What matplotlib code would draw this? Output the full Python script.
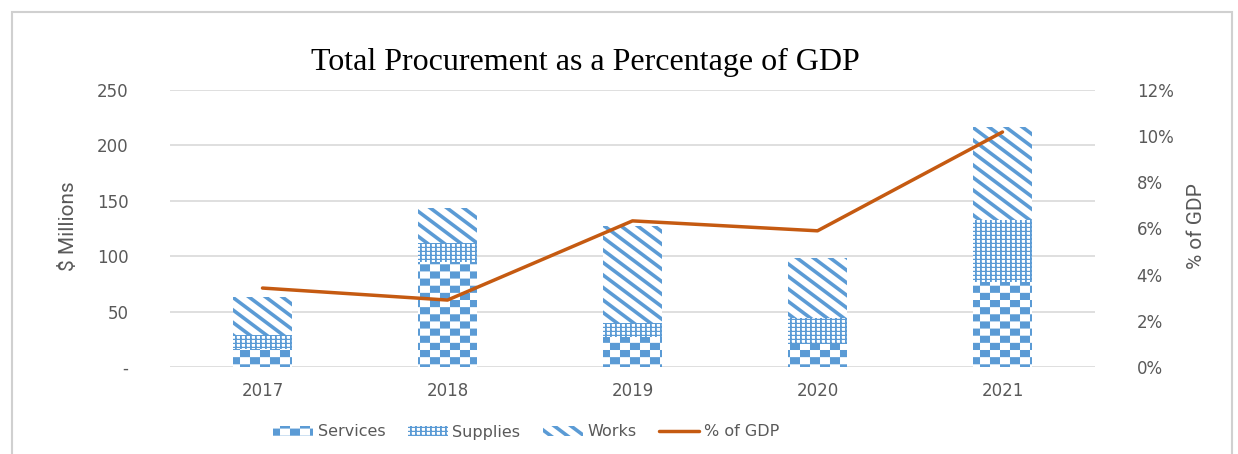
import numpy as np
import matplotlib
matplotlib.use("Agg")
import matplotlib.pyplot as plt
from matplotlib import hatch as mhatch
from matplotlib.path import Path
from matplotlib.patches import Rectangle
from matplotlib.ticker import FuncFormatter

# ---------------- data ----------------
years = ["2017", "2018", "2019", "2020", "2021"]
services = [16, 95, 27, 21, 77]
supplies = [13, 17, 13, 23, 56]
works = [34, 31.5, 87, 54, 84]
pct_gdp = [3.42, 2.9, 6.33, 5.9, 10.18]
left_ticks = [0, 50, 100, 150, 200, 250]
left_labels = ["-", "50", "100", "150", "200", "250"]
right_ticks = [0, 2, 4, 6, 8, 10, 12]

BLUE = "#5B9BD5"
ORANGE = "#C55A11"
GRID = "#D9D9D9"
TXT = "#595959"

# ---------------- custom fill patterns (Excel-like) ----------------
class _PolyHatch(mhatch.HatchPatternBase):
    key = None
    def __init__(self, hatch, density):
        self.polys = self.make_polys() if (hatch and self.key in hatch) else []
        self.num_vertices = 5 * len(self.polys)
    def make_polys(self):
        return []
    def set_vertices_and_codes(self, vertices, codes):
        for i, p in enumerate(self.polys):
            vertices[5 * i:5 * i + 4] = p
            vertices[5 * i + 4] = p[0]
            codes[5 * i] = Path.MOVETO
            codes[5 * i + 1:5 * i + 4] = Path.LINETO
            codes[5 * i + 4] = Path.CLOSEPOLY

class Checker(_PolyHatch):
    key = "."
    def make_polys(self):
        nx, ny = 10, 14
        w, h = 1.0 / nx, 1.0 / ny
        out = []
        for i in range(nx):
            for j in range(ny):
                if (i + j) % 2 == 0:
                    x, y = i * w, j * h
                    out.append([(x, y), (x + w, y), (x + w, y + h), (x, y + h)])
        return out

class Grid(_PolyHatch):
    key = "o"
    def make_polys(self):
        out = []
        nv, vw = 20, 0.018
        for i in range(nv):
            x = i / nv
            out.append([(x, 0), (x + vw, 0), (x + vw, 1), (x, 1)])
        nh, hw = 25, 0.012
        for j in range(nh):
            y = j / nh
            out.append([(0, y), (1, y), (1, y + hw), (0, y + hw)])
        return out

class Diag(_PolyHatch):
    key = "*"
    def make_polys(self):
        out = []
        t = 0.045
        s = 0.75
        x0, x1 = -0.05, 1.05
        for k in range(-2, 17):
            c = k * 0.125
            out.append([(x0, c - s * x0), (x1, c - s * x1),
                        (x1, c - s * x1 + t), (x0, c - s * x0 + t)])
        return out

mhatch._hatch_types[:] = [Checker, Grid, Diag]

plt.rcParams["hatch.linewidth"] = 0.01
plt.rcParams["hatch.color"] = BLUE
plt.rcParams["font.family"] = ["DejaVu Sans"]

# ---------------- figure ----------------
fig = plt.figure(figsize=(12.38, 4.54), dpi=100)
ax = fig.add_axes([170 / 1238, 1 - 367 / 454, (1095 - 170) / 1238, (367 - 90) / 454])
ax2 = ax.twinx()

x = np.arange(len(years))
bw = 0.32
b1 = ax.bar(x, services, bw, facecolor="white", edgecolor=BLUE, linewidth=0,
            hatch=".", label="Services", zorder=2)
b2 = ax.bar(x, supplies, bw, bottom=services, facecolor="white", edgecolor=BLUE,
            linewidth=0, hatch="o", label="Supplies", zorder=2)
bottom2 = np.array(services) + np.array(supplies)
b3 = ax.bar(x, works, bw, bottom=bottom2, facecolor="white", edgecolor=BLUE,
            linewidth=0, hatch="*", label="Works", zorder=2)

ln, = ax2.plot(x, pct_gdp, color=ORANGE, linewidth=2.5, label="% of GDP",
               solid_capstyle="round", zorder=3)

ax.set_xlim(-0.5, len(years) - 0.5)
ax.set_ylim(0, 250)
ax2.set_ylim(0, 12)
ax.set_yticks(left_ticks)
ax.set_yticklabels(left_labels)
ax2.set_yticks(right_ticks)
ax2.yaxis.set_major_formatter(FuncFormatter(lambda v, p: f"{v:.0f}%"))
ax.set_xticks(x)
ax.set_xticklabels(years)

for a in (ax, ax2):
    for s in a.spines.values():
        s.set_visible(False)
    a.tick_params(length=0, labelsize=12, labelcolor=TXT)
ax.tick_params(axis="y", pad=30)
ax2.tick_params(axis="y", pad=30)
ax.tick_params(axis="x", pad=11)

ax.grid(axis="y", color=GRID, linewidth=1.2, zorder=0)
ax.set_axisbelow(True)
ax2.patch.set_visible(False)

# axis titles
fig.text(68 / 1238, 1 - 226 / 454, "$ Millions", rotation=90, ha="center", va="center",
         fontsize=15, color=TXT, family=["Roboto", "DejaVu Sans"])
fig.text(1197 / 1238, 1 - 226 / 454, "% of GDP", rotation=90, ha="center", va="center",
         fontsize=15, color=TXT, family=["Roboto", "DejaVu Sans"])

# title
fig.text(585 / 1238, 1 - 62 / 454, "Total Procurement as a Percentage of GDP",
         ha="center", va="center", fontsize=23, color="black",
         family=["Liberation Serif", "DejaVu Serif"],
         bbox=dict(facecolor="white", edgecolor="none", pad=6), zorder=10)

# legend
handles = [b1, b2, b3, ln]
leg = fig.legend(handles, [h.get_label() for h in handles], loc="center",
                 bbox_to_anchor=(526 / 1238, 1 - 432 / 454), ncol=4, frameon=False,
                 fontsize=11.5, handlelength=2.5, handleheight=0.6, handletextpad=0.3,
                 columnspacing=1.4, labelcolor=TXT)

# outer chart border
fig.patches.append(Rectangle((12 / 1238, -0.05), (1232 - 12) / 1238, 1.05 - 12 / 454,
                             transform=fig.transFigure, fill=False, edgecolor="#D0D0D0",
                             linewidth=1.5, zorder=0))

fig.savefig("out.png", dpi=100)
